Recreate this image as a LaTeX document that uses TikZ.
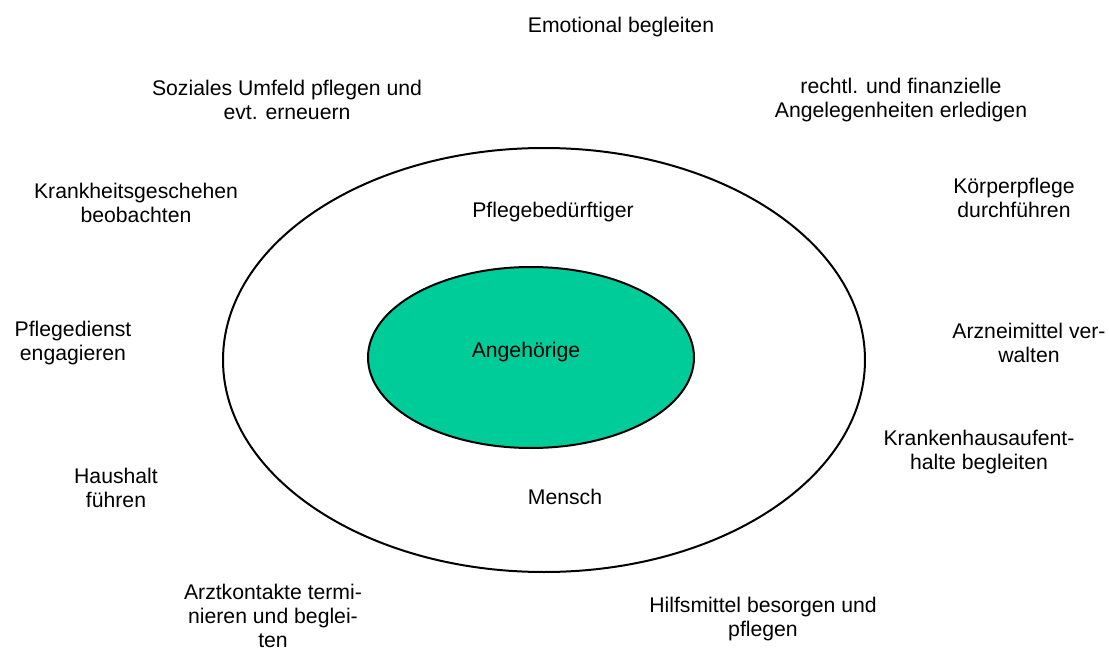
\documentclass[tikz,border=0pt]{standalone}
\usepackage{fontspec}
\setmainfont{Liberation Sans}
\definecolor{angehgreen}{RGB}{0,204,153}
\tikzset{lbl/.style={align=center, inner sep=0pt, font=\fontsize{21.2}{24}\selectfont}}

\begin{document}
\begin{tikzpicture}[x=1pt, y=-1pt]
\useasboundingbox (0,0) rectangle (1109,650);
\draw[line width=2] (544,360) ellipse [x radius=321, y radius=212];
\draw[line width=2, fill=angehgreen] (531,357.5) ellipse [x radius=163, y radius=90.5];
\begin{scope}[every node/.style={lbl}]
    \node (emot) at (621,27) {Emotional begleiten};
    \node (soz) at (287,100) {Soziales Umfeld pflegen und\\evt. erneuern};
    \node (recht) at (901,100) {rechtl. und finanzielle\\Angelegenheiten erledigen};
    \node (krank) at (136,203) {Krankheitsgeschehen\\beobachten};
    \node (koerp) at (1014,198) {Körperpflege\\durchführen};
    \node (pfb) at (553,212) {Pflegebedürftiger};
    \node (dienst) at (73,343) {Pflegedienst\\engagieren};
    \node (arznei) at (1029,343) {Arzneimittel ver-\\walten};
    \node (angeh) at (526,352) {Angehörige};
    \node (khaus) at (979,452) {Krankenhausaufent-\\halte begleiten};
    \node (haus) at (116,488) {Haushalt\\führen};
    \node (mensch) at (565,497) {Mensch};
    \node (arzt) at (273,616) {Arztkontakte termi-\\nieren und beglei-\\ten};
    \node (hilfs) at (763,619) {Hilfsmittel besorgen und\\pflegen};
\end{scope}
\end{tikzpicture}
\end{document}
